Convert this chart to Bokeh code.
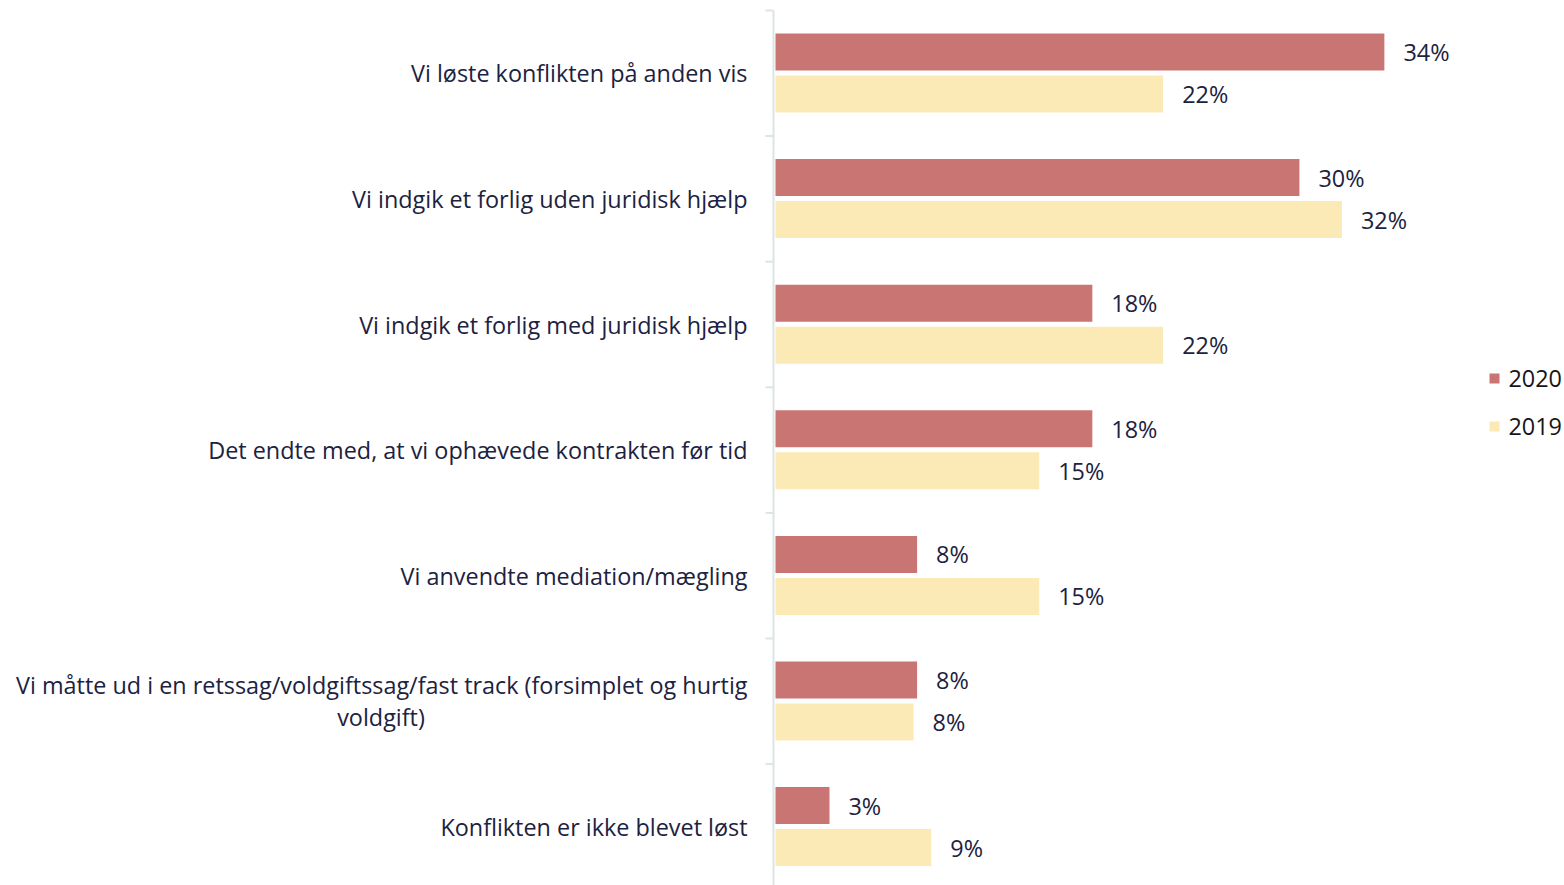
from bokeh.plotting import figure
from bokeh.models import Range1d, ColumnDataSource
from bokeh.core.properties import value
from bokeh.embed import file_html
from bokeh.resources import INLINE

# ---------------- data ----------------
categories = [
    "Vi løste konflikten på anden vis",
    "Vi indgik et forlig uden juridisk hjælp",
    "Vi indgik et forlig med juridisk hjælp",
    "Det endte med, at vi ophævede kontrakten før tid",
    "Vi anvendte mediation/mægling",
    "Vi måtte ud i en retssag/voldgiftssag/fast track (forsimplet og hurtig\nvoldgift)",
    "Konflikten er ikke blevet løst",
]
series_names = ["2020", "2019"]
values_2020 = [34.4, 29.6, 17.9, 17.9, 8.0, 8.0, 3.05]
values_2019 = [21.9, 32.0, 21.9, 14.9, 14.9, 7.8, 8.8]

# ---------------- style / layout ----------------
W, H = 1564, 885
X0_PX = 775.0      # pixel position of x = 0 inside the canvas
PPU_X = 17.7       # pixels per percentage point
Y0_PX = 10.0       # pixel position of the top category boundary
PPU_Y = 125.6      # pixels per category

C2020 = "#C97573"
C2019 = "#FBEAB5"
TXT = "#1C2240"
LEG_TXT = "#161616"
AXIS_C = "#DCE5E2"
FONT = "Open Sans"
FS = "23.4px"


def px_x(px):
    return (px - X0_PX) / PPU_X


def px_y(px):
    return (px - Y0_PX) / PPU_Y


n = len(categories)
p = figure(
    width=W, height=H,
    x_range=Range1d(px_x(0), px_x(W)),
    y_range=Range1d(px_y(H), px_y(0)),
    output_backend="svg", toolbar_location=None,
    x_axis_location=None, y_axis_location=None,
    min_border=0, outline_line_color=None,
)
p.grid.visible = False
p.background_fill_color = "white"
p.border_fill_color = "white"

bar_h = 37 / PPU_Y
off_2020 = 41.5 / PPU_Y
off_2019 = 83.5 / PPU_Y

y20 = [i + off_2020 for i in range(n)]
y19 = [i + off_2019 for i in range(n)]

src = ColumnDataSource(dict(
    y20=y20, y19=y19, v20=values_2020, v19=values_2019,
    l20=[f"{v:.0f}%" for v in values_2020],
    l19=[f"{v:.0f}%" for v in values_2019],
))

p.hbar(y="y20", right="v20", left=0, height=bar_h, source=src,
       fill_color=C2020, line_color=None)
p.hbar(y="y19", right="v19", left=0, height=bar_h, source=src,
       fill_color=C2019, line_color=None)

p.text(x="v20", y="y20", text="l20", source=src, x_offset=19,
       text_align="left", text_baseline="middle", text_color=TXT,
       text_font=value(FONT), text_font_size=FS)
p.text(x="v19", y="y19", text="l19", source=src, x_offset=19,
       text_align="left", text_baseline="middle", text_color=TXT,
       text_font=value(FONT), text_font_size=FS)

# axis line and boundary ticks
ax_x = px_x(X0_PX - 2)
bounds = list(range(n + 1))
p.segment(x0=[ax_x], y0=[0], x1=[ax_x], y1=[n], line_color=AXIS_C, line_width=2)
p.segment(x0=[px_x(X0_PX - 10)] * len(bounds), y0=bounds,
          x1=[ax_x] * len(bounds), y1=bounds, line_color=AXIS_C, line_width=2)

# category labels
lab_x = px_x(747)
single_x, single_y, single_t = [], [], []
for i, c in enumerate(categories):
    lines = c.split("\n")
    if len(lines) == 1:
        single_x.append(lab_x)
        single_y.append(i + 0.5)
        single_t.append(c)
    else:
        dy = 16 / PPU_Y
        p.text(x=[lab_x], y=[i + 0.5 - dy], text=[lines[0]],
               text_align="right", text_baseline="middle", text_color=TXT,
               text_font=value(FONT), text_font_size=FS)
        p.text(x=[px_x(747 - 733 / 2)], y=[i + 0.5 + dy], text=[lines[1]],
               text_align="center", text_baseline="middle", text_color=TXT,
               text_font=value(FONT), text_font_size=FS)
p.text(x=single_x, y=single_y, text=single_t,
       text_align="right", text_baseline="middle", text_color=TXT,
       text_font=value(FONT), text_font_size=FS)

# legend
leg_y = [px_y(378), px_y(426)]
p.scatter(x=[px_x(1494)] * 2, y=leg_y, marker="square", size=10,
          fill_color=[C2020, C2019], line_color=None)
p.text(x=[px_x(1508)] * 2, y=leg_y, text=series_names,
       text_align="left", text_baseline="middle", text_color=LEG_TXT,
       text_font=value(FONT), text_font_size=FS)

open("out.html", "w").write(file_html(p, INLINE))
